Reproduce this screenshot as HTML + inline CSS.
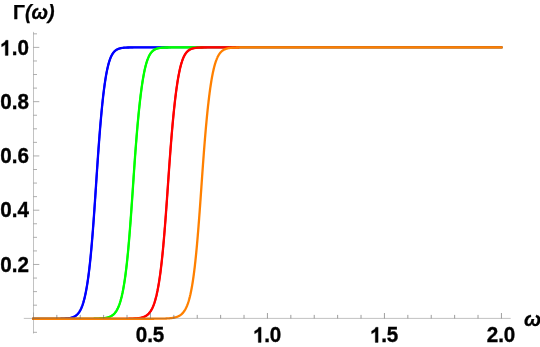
<!DOCTYPE html>
<html><head><meta charset="utf-8"><title>Plot</title>
<style>
html,body{margin:0;padding:0;background:#fff;}
body{width:540px;height:347px;position:relative;overflow:hidden;font-family:"Liberation Sans",sans-serif;color:#000;}
.yl{position:absolute;left:0;width:29px;text-align:right;font-weight:bold;font-size:20.6px;line-height:22px;height:22px;white-space:nowrap;}
.xl{position:absolute;top:322.8px;width:40px;text-align:center;font-weight:bold;font-size:20.6px;line-height:22px;height:22px;white-space:nowrap;}
.t{position:absolute;font-weight:bold;font-size:20.6px;line-height:22px;white-space:nowrap;}
.t{-webkit-text-stroke:0.25px #000;}
.t i{font-style:italic;}
.o{position:relative;color:transparent;-webkit-text-stroke:0 transparent;}
.o svg{position:absolute;left:0;bottom:0.212em;width:0.55615em;height:0.685em;overflow:visible;}
.o path{fill:#000;stroke:#000;stroke-width:35;}
.yl,.xl,.t{will-change:transform;}
.yl,.xl{transform:scaleY(1.07);transform-origin:center top;-webkit-text-stroke:0.35px #000;}
</style></head><body>
<svg width="540" height="347" viewBox="0 0 540 347" style="position:absolute;left:0;top:0">
<g fill="none" stroke-width="2.3" stroke-linejoin="round">
<path stroke="#0000ff" stroke-width="1.9" stroke-linecap="square" d="M33.43 318.75 L51.56 318.75 L53.91 318.74 L55.31 318.74 L56.36 318.73 L57.18 318.73 L57.77 318.72 L58.35 318.72 L58.82 318.72 L59.29 318.71 L59.64 318.71 L59.99 318.70 L60.34 318.70 L60.69 318.69 L60.92 318.69 L61.16 318.68 L61.39 318.68 L61.63 318.67 L61.86 318.67 L62.09 318.66 L62.33 318.66 L62.56 318.65 L62.80 318.64 L63.03 318.64 L63.27 318.63 L63.50 318.62 L63.73 318.61 L63.97 318.60 L64.20 318.59 L64.44 318.58 L64.67 318.57 L64.90 318.56 L65.14 318.55 L65.37 318.53 L65.61 318.52 L65.84 318.50 L66.07 318.49 L66.31 318.47 L66.54 318.45 L66.78 318.44 L67.01 318.41 L67.24 318.39 L67.48 318.37 L67.71 318.35 L67.94 318.32 L68.18 318.29 L68.41 318.27 L68.65 318.24 L68.88 318.20 L69.12 318.17 L69.35 318.13 L69.58 318.09 L69.82 318.05 L70.05 318.01 L70.28 317.97 L70.52 317.92 L70.75 317.87 L70.99 317.81 L71.22 317.76 L71.45 317.70 L71.69 317.63 L71.92 317.57 L72.16 317.49 L72.39 317.42 L72.62 317.34 L72.86 317.26 L73.09 317.17 L73.33 317.07 L73.56 316.97 L73.80 316.87 L74.03 316.76 L74.26 316.64 L74.50 316.52 L74.73 316.39 L74.97 316.26 L75.20 316.11 L75.43 315.96 L75.67 315.80 L75.90 315.63 L76.13 315.46 L76.37 315.27 L76.60 315.07 L76.84 314.87 L77.07 314.65 L77.31 314.42 L77.54 314.18 L77.77 313.93 L78.01 313.66 L78.24 313.38 L78.47 313.09 L78.71 312.78 L78.94 312.45 L79.18 312.11 L79.41 311.76 L79.65 311.38 L79.88 310.99 L80.11 310.58 L80.35 310.15 L80.58 309.69 L80.81 309.22 L81.05 308.72 L81.17 308.47 L81.28 308.20 L81.40 307.93 L81.52 307.66 L81.63 307.38 L81.75 307.09 L81.87 306.80 L81.99 306.49 L82.10 306.19 L82.22 305.87 L82.34 305.55 L82.45 305.22 L82.57 304.89 L82.69 304.54 L82.80 304.19 L82.92 303.84 L83.04 303.47 L83.16 303.10 L83.27 302.71 L83.39 302.32 L83.51 301.93 L83.62 301.52 L83.74 301.11 L83.86 300.68 L83.97 300.25 L84.09 299.81 L84.21 299.36 L84.33 298.90 L84.44 298.43 L84.56 297.95 L84.68 297.46 L84.79 296.97 L84.91 296.46 L85.03 295.94 L85.14 295.42 L85.26 294.88 L85.38 294.33 L85.50 293.77 L85.61 293.21 L85.73 292.63 L85.85 292.04 L85.96 291.44 L86.08 290.83 L86.20 290.20 L86.31 289.57 L86.43 288.92 L86.55 288.27 L86.66 287.60 L86.78 286.92 L86.90 286.23 L87.02 285.53 L87.13 284.81 L87.25 284.08 L87.37 283.34 L87.48 282.59 L87.60 281.82 L87.72 281.04 L87.84 280.25 L87.95 279.44 L88.07 278.61 L88.19 277.77 L88.30 276.91 L88.42 276.04 L88.54 275.15 L88.65 274.25 L88.77 273.33 L88.89 272.39 L89.00 271.44 L89.12 270.47 L89.24 269.49 L89.36 268.49 L89.47 267.47 L89.59 266.43 L89.71 265.38 L89.82 264.31 L89.94 263.23 L90.06 262.12 L90.17 261.00 L90.29 259.86 L90.41 258.71 L90.53 257.53 L90.64 256.34 L90.76 255.14 L90.88 253.91 L90.99 252.67 L91.11 251.41 L91.23 250.13 L91.34 248.84 L91.46 247.53 L91.58 246.20 L91.70 244.85 L91.81 243.49 L91.93 242.11 L92.05 240.71 L92.16 239.30 L92.28 237.87 L92.40 236.43 L92.52 234.96 L92.63 233.49 L92.75 232.00 L92.87 230.49 L92.98 228.96 L93.10 227.43 L93.22 225.87 L93.33 224.31 L93.45 222.73 L93.57 221.13 L93.69 219.53 L93.80 217.91 L93.92 216.28 L94.04 214.63 L94.15 212.98 L94.27 211.31 L94.39 209.63 L94.50 207.95 L94.62 206.25 L94.74 204.54 L94.86 202.83 L94.97 201.10 L95.09 199.37 L95.21 197.63 L95.32 195.89 L95.44 194.14 L95.56 192.38 L95.67 190.62 L95.79 188.86 L95.91 187.09 L96.03 185.31 L96.14 183.54 L96.26 181.76 L96.38 179.99 L96.49 178.22 L96.61 176.46 L96.73 174.70 L96.84 172.95 L96.96 171.20 L97.08 169.46 L97.20 167.73 L97.31 166.00 L97.43 164.29 L97.55 162.58 L97.66 160.88 L97.78 159.20 L97.90 157.52 L98.01 155.85 L98.13 154.19 L98.25 152.55 L98.37 150.92 L98.48 149.29 L98.60 147.69 L98.72 146.09 L98.83 144.51 L98.95 142.93 L99.07 141.38 L99.18 139.83 L99.30 138.30 L99.42 136.79 L99.53 135.29 L99.65 133.80 L99.77 132.33 L99.89 130.87 L100.00 129.42 L100.12 128.00 L100.24 126.58 L100.35 125.18 L100.47 123.80 L100.59 122.43 L100.71 121.08 L100.82 119.74 L100.94 118.42 L101.06 117.11 L101.17 115.82 L101.29 114.54 L101.41 113.28 L101.52 112.04 L101.64 110.81 L101.76 109.60 L101.88 108.40 L101.99 107.22 L102.11 106.05 L102.23 104.90 L102.34 103.76 L102.46 102.64 L102.58 101.54 L102.69 100.45 L102.81 99.37 L102.93 98.31 L103.04 97.27 L103.16 96.24 L103.28 95.23 L103.40 94.23 L103.51 93.25 L103.63 92.28 L103.75 91.33 L103.86 90.39 L103.98 89.47 L104.10 88.56 L104.22 87.67 L104.33 86.79 L104.45 85.92 L104.57 85.07 L104.68 84.24 L104.80 83.42 L104.92 82.61 L105.03 81.82 L105.15 81.04 L105.27 80.27 L105.38 79.52 L105.50 78.78 L105.62 78.06 L105.74 77.35 L105.85 76.65 L105.97 75.96 L106.09 75.29 L106.20 74.63 L106.32 73.98 L106.44 73.35 L106.56 72.73 L106.67 72.12 L106.79 71.52 L106.91 70.93 L107.02 70.36 L107.14 69.80 L107.26 69.25 L107.37 68.71 L107.49 68.18 L107.61 67.66 L107.72 67.16 L107.84 66.66 L107.96 66.18 L108.08 65.70 L108.19 65.24 L108.31 64.78 L108.43 64.34 L108.54 63.91 L108.66 63.48 L108.78 63.07 L108.90 62.66 L109.01 62.27 L109.13 61.88 L109.25 61.50 L109.36 61.13 L109.48 60.77 L109.60 60.42 L109.71 60.07 L109.83 59.74 L109.95 59.41 L110.06 59.09 L110.18 58.78 L110.30 58.47 L110.42 58.17 L110.53 57.88 L110.65 57.60 L110.77 57.32 L110.88 57.05 L111.00 56.79 L111.12 56.54 L111.35 56.04 L111.59 55.57 L111.82 55.13 L112.05 54.70 L112.29 54.30 L112.52 53.92 L112.76 53.56 L112.99 53.22 L113.22 52.89 L113.46 52.58 L113.69 52.29 L113.93 52.02 L114.16 51.75 L114.39 51.51 L114.63 51.27 L114.86 51.05 L115.10 50.84 L115.33 50.64 L115.56 50.46 L115.80 50.28 L116.03 50.11 L116.27 49.96 L116.50 49.81 L116.73 49.67 L116.97 49.53 L117.20 49.41 L117.44 49.29 L117.67 49.18 L117.90 49.07 L118.14 48.97 L118.37 48.88 L118.61 48.79 L118.84 48.71 L119.07 48.63 L119.31 48.56 L119.54 48.49 L119.78 48.42 L120.01 48.36 L120.24 48.30 L120.48 48.25 L120.71 48.20 L120.95 48.15 L121.18 48.10 L121.41 48.06 L121.65 48.02 L121.88 47.98 L122.12 47.95 L122.35 47.91 L122.58 47.88 L122.82 47.85 L123.05 47.82 L123.29 47.80 L123.52 47.77 L123.75 47.75 L123.99 47.73 L124.22 47.71 L124.46 47.69 L124.69 47.67 L124.92 47.65 L125.16 47.64 L125.39 47.62 L125.63 47.61 L125.86 47.59 L126.09 47.58 L126.33 47.57 L126.56 47.56 L126.80 47.55 L127.03 47.54 L127.26 47.53 L127.50 47.52 L127.73 47.52 L127.97 47.51 L128.20 47.50 L128.43 47.49 L128.67 47.49 L128.90 47.48 L129.14 47.48 L129.37 47.47 L129.60 47.47 L129.84 47.46 L130.07 47.46 L130.42 47.45 L130.77 47.45 L131.12 47.44 L131.48 47.44 L131.94 47.43 L132.41 47.43 L133.00 47.43 L133.58 47.42 L134.40 47.42 L135.34 47.41 L136.62 47.41 L138.73 47.40 L145.40 47.40 L501.43 47.40"/>
<path stroke="#0000ff" d="M60.46 318.69 L60.81 318.69 L61.04 318.68 L61.28 318.68 L61.51 318.67 L61.74 318.67 L61.98 318.66 L62.21 318.66 L62.45 318.65 L62.68 318.65 L62.91 318.64 L63.15 318.63 L63.38 318.62 L63.62 318.62 L63.85 318.61 L64.08 318.60 L64.32 318.59 L64.55 318.58 L64.79 318.57 L65.02 318.55 L65.25 318.54 L65.49 318.53 L65.72 318.51 L65.96 318.50 L66.19 318.48 L66.42 318.46 L66.66 318.44 L66.89 318.43 L67.13 318.40 L67.36 318.38 L67.59 318.36 L67.83 318.33 L68.06 318.31 L68.30 318.28 L68.53 318.25 L68.76 318.22 L69.00 318.19 L69.23 318.15 L69.47 318.11 L69.70 318.08 L69.93 318.03 L70.17 317.99 L70.40 317.94 L70.64 317.89 L70.87 317.84 L71.10 317.79 L71.34 317.73 L71.57 317.67 L71.81 317.60 L72.04 317.53 L72.27 317.46 L72.51 317.38 L72.74 317.30 L72.98 317.21 L73.21 317.12 L73.44 317.03 L73.68 316.92 L73.91 316.82 L74.15 316.70 L74.38 316.58 L74.61 316.46 L74.85 316.33 L75.08 316.19 L75.32 316.04 L75.55 315.88 L75.78 315.72 L76.02 315.55 L76.25 315.36 L76.49 315.17 L76.72 314.97 L76.95 314.76 L77.19 314.54 L77.42 314.30 L77.66 314.05 L77.89 313.80 L78.12 313.52 L78.36 313.24 L78.59 312.93 L78.83 312.62 L79.06 312.29 L79.29 311.94 L79.53 311.57 L79.76 311.19 L80.00 310.79 L80.23 310.36 L80.46 309.92 L80.70 309.46 L80.93 308.97 L81.05 308.72 L81.17 308.47 L81.28 308.20 L81.40 307.93 L81.52 307.66 L81.63 307.38 L81.75 307.09 L81.87 306.80 L81.99 306.49 L82.10 306.19 L82.22 305.87 L82.34 305.55 L82.45 305.22 L82.57 304.89 L82.69 304.54 L82.80 304.19 L82.92 303.84 L83.04 303.47 L83.16 303.10 L83.27 302.71 L83.39 302.32 L83.51 301.93 L83.62 301.52 L83.74 301.11 L83.86 300.68 L83.97 300.25 L84.09 299.81 L84.21 299.36 L84.33 298.90 L84.44 298.43 L84.56 297.95 L84.68 297.46 L84.79 296.97 L84.91 296.46 L85.03 295.94 L85.14 295.42 L85.26 294.88 L85.38 294.33 L85.50 293.77 L85.61 293.21 L85.73 292.63 L85.85 292.04 L85.96 291.44 L86.08 290.83 L86.20 290.20 L86.31 289.57 L86.43 288.92 L86.55 288.27 L86.66 287.60 L86.78 286.92 L86.90 286.23 L87.02 285.53 L87.13 284.81 L87.25 284.08 L87.37 283.34 L87.48 282.59 L87.60 281.82 L87.72 281.04 L87.84 280.25 L87.95 279.44 L88.07 278.61 L88.19 277.77 L88.30 276.91 L88.42 276.04 L88.54 275.15 L88.65 274.25 L88.77 273.33 L88.89 272.39 L89.00 271.44 L89.12 270.47 L89.24 269.49 L89.36 268.49 L89.47 267.47 L89.59 266.43 L89.71 265.38 L89.82 264.31 L89.94 263.23 L90.06 262.12 L90.17 261.00 L90.29 259.86 L90.41 258.71 L90.53 257.53 L90.64 256.34 L90.76 255.14 L90.88 253.91 L90.99 252.67 L91.11 251.41 L91.23 250.13 L91.34 248.84 L91.46 247.53 L91.58 246.20 L91.70 244.85 L91.81 243.49 L91.93 242.11 L92.05 240.71 L92.16 239.30 L92.28 237.87 L92.40 236.43 L92.52 234.96 L92.63 233.49 L92.75 232.00 L92.87 230.49 L92.98 228.96 L93.10 227.43 L93.22 225.87 L93.33 224.31 L93.45 222.73 L93.57 221.13 L93.69 219.53 L93.80 217.91 L93.92 216.28 L94.04 214.63 L94.15 212.98 L94.27 211.31 L94.39 209.63 L94.50 207.95 L94.62 206.25 L94.74 204.54 L94.86 202.83 L94.97 201.10 L95.09 199.37 L95.21 197.63 L95.32 195.89 L95.44 194.14 L95.56 192.38 L95.67 190.62 L95.79 188.86 L95.91 187.09 L96.03 185.31 L96.14 183.54 L96.26 181.76 L96.38 179.99 L96.49 178.22 L96.61 176.46 L96.73 174.70 L96.84 172.95 L96.96 171.20 L97.08 169.46 L97.20 167.73 L97.31 166.00 L97.43 164.29 L97.55 162.58 L97.66 160.88 L97.78 159.20 L97.90 157.52 L98.01 155.85 L98.13 154.19 L98.25 152.55 L98.37 150.92 L98.48 149.29 L98.60 147.69 L98.72 146.09 L98.83 144.51 L98.95 142.93 L99.07 141.38 L99.18 139.83 L99.30 138.30 L99.42 136.79 L99.53 135.29 L99.65 133.80 L99.77 132.33 L99.89 130.87 L100.00 129.42 L100.12 128.00 L100.24 126.58 L100.35 125.18 L100.47 123.80 L100.59 122.43 L100.71 121.08 L100.82 119.74 L100.94 118.42 L101.06 117.11 L101.17 115.82 L101.29 114.54 L101.41 113.28 L101.52 112.04 L101.64 110.81 L101.76 109.60 L101.88 108.40 L101.99 107.22 L102.11 106.05 L102.23 104.90 L102.34 103.76 L102.46 102.64 L102.58 101.54 L102.69 100.45 L102.81 99.37 L102.93 98.31 L103.04 97.27 L103.16 96.24 L103.28 95.23 L103.40 94.23 L103.51 93.25 L103.63 92.28 L103.75 91.33 L103.86 90.39 L103.98 89.47 L104.10 88.56 L104.22 87.67 L104.33 86.79 L104.45 85.92 L104.57 85.07 L104.68 84.24 L104.80 83.42 L104.92 82.61 L105.03 81.82 L105.15 81.04 L105.27 80.27 L105.38 79.52 L105.50 78.78 L105.62 78.06 L105.74 77.35 L105.85 76.65 L105.97 75.96 L106.09 75.29 L106.20 74.63 L106.32 73.98 L106.44 73.35 L106.56 72.73 L106.67 72.12 L106.79 71.52 L106.91 70.93 L107.02 70.36 L107.14 69.80 L107.26 69.25 L107.37 68.71 L107.49 68.18 L107.61 67.66 L107.72 67.16 L107.84 66.66 L107.96 66.18 L108.08 65.70 L108.19 65.24 L108.31 64.78 L108.43 64.34 L108.54 63.91 L108.66 63.48 L108.78 63.07 L108.90 62.66 L109.01 62.27 L109.13 61.88 L109.25 61.50 L109.36 61.13 L109.48 60.77 L109.60 60.42 L109.71 60.07 L109.83 59.74 L109.95 59.41 L110.06 59.09 L110.18 58.78 L110.30 58.47 L110.42 58.17 L110.53 57.88 L110.65 57.60 L110.77 57.32 L110.88 57.05 L111.00 56.79 L111.12 56.54 L111.35 56.04 L111.59 55.57 L111.82 55.13 L112.05 54.70 L112.29 54.30 L112.52 53.92 L112.76 53.56 L112.99 53.22 L113.22 52.89 L113.46 52.58 L113.69 52.29 L113.93 52.02 L114.16 51.75 L114.39 51.51 L114.63 51.27 L114.86 51.05 L115.10 50.84 L115.33 50.64 L115.56 50.46 L115.80 50.28 L116.03 50.11 L116.27 49.96 L116.50 49.81 L116.73 49.67 L116.97 49.53 L117.20 49.41 L117.44 49.29 L117.67 49.18 L117.90 49.07 L118.14 48.97 L118.37 48.88 L118.61 48.79 L118.84 48.71 L119.07 48.63 L119.31 48.56 L119.54 48.49 L119.78 48.42 L120.01 48.36 L120.24 48.30 L120.48 48.25 L120.71 48.20 L120.95 48.15 L121.18 48.10 L121.41 48.06 L121.65 48.02 L121.88 47.98 L122.12 47.95 L122.35 47.91 L122.58 47.88 L122.82 47.85 L123.05 47.82 L123.29 47.80 L123.52 47.77 L123.75 47.75 L123.99 47.73 L124.22 47.71 L124.46 47.69 L124.69 47.67 L124.92 47.65 L125.16 47.64 L125.39 47.62 L125.63 47.61 L125.86 47.59 L126.09 47.58 L126.33 47.57 L126.56 47.56 L126.80 47.55 L127.03 47.54 L127.26 47.53 L127.50 47.52 L127.73 47.52 L127.97 47.51 L128.20 47.50 L128.43 47.49 L128.67 47.49 L128.90 47.48 L129.14 47.48 L129.37 47.47 L129.60 47.47 L129.84 47.46 L130.07 47.46 L130.42 47.45 L130.77 47.45 L131.12 47.44 L131.48 47.44 L131.94 47.43 L132.41 47.43 L133.00 47.43 L133.58 47.42 L134.40 47.42 L135.34 47.41 L136.62 47.41 L138.73 47.40 L145.40 47.40 L168.45 47.40"/>
<path stroke="#00ff00" stroke-width="1.9" stroke-linecap="square" d="M33.43 318.75 L82.57 318.75 L85.50 318.74 L87.25 318.74 L88.54 318.73 L89.47 318.73 L90.29 318.72 L90.99 318.72 L91.58 318.72 L92.16 318.71 L92.63 318.71 L93.10 318.70 L93.45 318.70 L93.80 318.69 L94.15 318.69 L94.50 318.68 L94.86 318.68 L95.21 318.67 L95.44 318.67 L95.67 318.66 L95.91 318.66 L96.14 318.65 L96.38 318.65 L96.61 318.64 L96.84 318.64 L97.08 318.63 L97.31 318.62 L97.55 318.62 L97.78 318.61 L98.01 318.60 L98.25 318.59 L98.48 318.59 L98.72 318.58 L98.95 318.57 L99.18 318.56 L99.42 318.55 L99.65 318.54 L99.89 318.53 L100.12 318.51 L100.35 318.50 L100.59 318.49 L100.82 318.47 L101.06 318.46 L101.29 318.44 L101.52 318.43 L101.76 318.41 L101.99 318.39 L102.23 318.37 L102.46 318.35 L102.69 318.33 L102.93 318.31 L103.16 318.28 L103.40 318.26 L103.63 318.23 L103.86 318.21 L104.10 318.18 L104.33 318.15 L104.57 318.12 L104.80 318.08 L105.03 318.05 L105.27 318.01 L105.50 317.97 L105.74 317.93 L105.97 317.89 L106.20 317.84 L106.44 317.79 L106.67 317.74 L106.91 317.69 L107.14 317.64 L107.37 317.58 L107.61 317.52 L107.84 317.45 L108.08 317.39 L108.31 317.32 L108.54 317.24 L108.78 317.16 L109.01 317.08 L109.25 317.00 L109.48 316.90 L109.71 316.81 L109.95 316.71 L110.18 316.61 L110.42 316.50 L110.65 316.38 L110.88 316.26 L111.12 316.13 L111.35 316.00 L111.59 315.86 L111.82 315.71 L112.05 315.56 L112.29 315.40 L112.52 315.23 L112.76 315.05 L112.99 314.86 L113.22 314.67 L113.46 314.47 L113.69 314.25 L113.93 314.03 L114.16 313.79 L114.39 313.54 L114.63 313.28 L114.86 313.01 L115.10 312.73 L115.33 312.43 L115.56 312.12 L115.80 311.79 L116.03 311.45 L116.27 311.10 L116.50 310.72 L116.73 310.33 L116.97 309.92 L117.20 309.50 L117.44 309.05 L117.67 308.58 L117.90 308.09 L118.02 307.84 L118.14 307.58 L118.25 307.32 L118.37 307.05 L118.49 306.77 L118.61 306.49 L118.72 306.21 L118.84 305.91 L118.96 305.61 L119.07 305.30 L119.19 304.99 L119.31 304.67 L119.43 304.34 L119.54 304.01 L119.66 303.67 L119.78 303.32 L119.89 302.97 L120.01 302.60 L120.13 302.23 L120.24 301.85 L120.36 301.47 L120.48 301.07 L120.59 300.67 L120.71 300.26 L120.83 299.84 L120.95 299.41 L121.06 298.97 L121.18 298.53 L121.30 298.07 L121.41 297.61 L121.53 297.14 L121.65 296.66 L121.76 296.16 L121.88 295.66 L122.00 295.15 L122.12 294.63 L122.23 294.10 L122.35 293.56 L122.47 293.01 L122.58 292.44 L122.70 291.87 L122.82 291.29 L122.94 290.69 L123.05 290.09 L123.17 289.47 L123.29 288.84 L123.40 288.20 L123.52 287.55 L123.64 286.89 L123.75 286.21 L123.87 285.53 L123.99 284.83 L124.10 284.12 L124.22 283.39 L124.34 282.66 L124.46 281.91 L124.57 281.14 L124.69 280.36 L124.81 279.57 L124.92 278.77 L125.04 277.94 L125.16 277.11 L125.28 276.26 L125.39 275.39 L125.51 274.51 L125.63 273.61 L125.74 272.70 L125.86 271.77 L125.98 270.83 L126.09 269.87 L126.21 268.90 L126.33 267.91 L126.44 266.90 L126.56 265.87 L126.68 264.83 L126.80 263.78 L126.91 262.71 L127.03 261.62 L127.15 260.51 L127.26 259.39 L127.38 258.25 L127.50 257.09 L127.62 255.92 L127.73 254.73 L127.85 253.52 L127.97 252.30 L128.08 251.06 L128.20 249.81 L128.32 248.53 L128.43 247.24 L128.55 245.94 L128.67 244.62 L128.78 243.28 L128.90 241.92 L129.02 240.55 L129.14 239.17 L129.25 237.76 L129.37 236.35 L129.49 234.91 L129.60 233.47 L129.72 232.00 L129.84 230.52 L129.96 229.03 L130.07 227.53 L130.19 226.00 L130.31 224.47 L130.42 222.92 L130.54 221.36 L130.66 219.79 L130.77 218.20 L130.89 216.61 L131.01 215.00 L131.12 213.38 L131.24 211.75 L131.36 210.11 L131.48 208.45 L131.59 206.79 L131.71 205.12 L131.83 203.45 L131.94 201.76 L132.06 200.07 L132.18 198.36 L132.29 196.66 L132.41 194.94 L132.53 193.22 L132.65 191.50 L132.76 189.77 L132.88 188.04 L133.00 186.30 L133.11 184.56 L133.23 182.82 L133.35 181.08 L133.47 179.35 L133.58 177.62 L133.70 175.90 L133.82 174.19 L133.93 172.48 L134.05 170.78 L134.17 169.09 L134.28 167.41 L134.40 165.74 L134.52 164.08 L134.63 162.43 L134.75 160.79 L134.87 159.16 L134.99 157.54 L135.10 155.94 L135.22 154.34 L135.34 152.76 L135.45 151.19 L135.57 149.63 L135.69 148.09 L135.81 146.55 L135.92 145.03 L136.04 143.53 L136.16 142.04 L136.27 140.56 L136.39 139.09 L136.51 137.64 L136.62 136.21 L136.74 134.78 L136.86 133.37 L136.97 131.98 L137.09 130.60 L137.21 129.23 L137.33 127.88 L137.44 126.54 L137.56 125.21 L137.68 123.90 L137.79 122.61 L137.91 121.33 L138.03 120.06 L138.15 118.80 L138.26 117.56 L138.38 116.34 L138.50 115.13 L138.61 113.93 L138.73 112.75 L138.85 111.58 L138.96 110.42 L139.08 109.28 L139.20 108.15 L139.31 107.04 L139.43 105.94 L139.55 104.85 L139.67 103.78 L139.78 102.72 L139.90 101.67 L140.02 100.64 L140.13 99.62 L140.25 98.62 L140.37 97.62 L140.49 96.65 L140.60 95.68 L140.72 94.73 L140.84 93.79 L140.95 92.87 L141.07 91.95 L141.19 91.05 L141.30 90.17 L141.42 89.29 L141.54 88.43 L141.66 87.59 L141.77 86.75 L141.89 85.93 L142.01 85.12 L142.12 84.32 L142.24 83.54 L142.36 82.77 L142.47 82.01 L142.59 81.26 L142.71 80.53 L142.83 79.80 L142.94 79.09 L143.06 78.39 L143.18 77.71 L143.29 77.03 L143.41 76.37 L143.53 75.72 L143.64 75.08 L143.76 74.45 L143.88 73.83 L144.00 73.22 L144.11 72.63 L144.23 72.04 L144.35 71.47 L144.46 70.91 L144.58 70.36 L144.70 69.81 L144.81 69.28 L144.93 68.76 L145.05 68.25 L145.17 67.75 L145.28 67.26 L145.40 66.78 L145.52 66.31 L145.63 65.85 L145.75 65.40 L145.87 64.96 L145.98 64.52 L146.10 64.10 L146.22 63.69 L146.34 63.28 L146.45 62.88 L146.57 62.49 L146.69 62.11 L146.80 61.74 L146.92 61.38 L147.04 61.02 L147.15 60.67 L147.27 60.33 L147.39 60.00 L147.50 59.68 L147.62 59.36 L147.74 59.05 L147.86 58.75 L147.97 58.45 L148.09 58.16 L148.21 57.88 L148.32 57.60 L148.44 57.34 L148.56 57.07 L148.68 56.82 L148.79 56.57 L149.03 56.08 L149.26 55.62 L149.49 55.19 L149.73 54.77 L149.96 54.38 L150.20 54.00 L150.43 53.64 L150.66 53.30 L150.90 52.98 L151.13 52.68 L151.37 52.39 L151.60 52.11 L151.83 51.85 L152.07 51.60 L152.30 51.37 L152.54 51.15 L152.77 50.94 L153.00 50.74 L153.24 50.55 L153.47 50.37 L153.71 50.20 L153.94 50.04 L154.17 49.89 L154.41 49.75 L154.64 49.62 L154.88 49.49 L155.11 49.37 L155.34 49.25 L155.58 49.15 L155.81 49.05 L156.05 48.95 L156.28 48.86 L156.51 48.77 L156.75 48.69 L156.98 48.62 L157.22 48.55 L157.45 48.48 L157.68 48.41 L157.92 48.35 L158.15 48.30 L158.39 48.24 L158.62 48.19 L158.85 48.15 L159.09 48.10 L159.32 48.06 L159.56 48.02 L159.79 47.98 L160.02 47.95 L160.26 47.92 L160.49 47.88 L160.73 47.85 L160.96 47.83 L161.19 47.80 L161.43 47.78 L161.66 47.75 L161.90 47.73 L162.13 47.71 L162.36 47.69 L162.60 47.67 L162.83 47.66 L163.07 47.64 L163.30 47.63 L163.53 47.61 L163.77 47.60 L164.00 47.59 L164.24 47.58 L164.47 47.57 L164.70 47.55 L164.94 47.55 L165.17 47.54 L165.41 47.53 L165.64 47.52 L165.87 47.51 L166.11 47.50 L166.34 47.50 L166.58 47.49 L166.81 47.49 L167.04 47.48 L167.28 47.48 L167.51 47.47 L167.75 47.47 L167.98 47.46 L168.33 47.46 L168.68 47.45 L169.03 47.45 L169.38 47.44 L169.85 47.44 L170.32 47.43 L170.79 47.43 L171.37 47.42 L172.08 47.42 L172.89 47.42 L173.95 47.41 L175.47 47.41 L178.28 47.40 L501.43 47.40"/>
<path stroke="#00ff00" d="M93.69 318.70 L94.04 318.69 L94.39 318.69 L94.74 318.68 L95.09 318.67 L95.32 318.67 L95.56 318.67 L95.79 318.66 L96.03 318.66 L96.26 318.65 L96.49 318.65 L96.73 318.64 L96.96 318.63 L97.20 318.63 L97.43 318.62 L97.66 318.61 L97.90 318.61 L98.13 318.60 L98.37 318.59 L98.60 318.58 L98.83 318.57 L99.07 318.56 L99.30 318.55 L99.53 318.54 L99.77 318.53 L100.00 318.52 L100.24 318.51 L100.47 318.49 L100.71 318.48 L100.94 318.47 L101.17 318.45 L101.41 318.43 L101.64 318.42 L101.88 318.40 L102.11 318.38 L102.34 318.36 L102.58 318.34 L102.81 318.32 L103.04 318.30 L103.28 318.27 L103.51 318.25 L103.75 318.22 L103.98 318.19 L104.22 318.16 L104.45 318.13 L104.68 318.10 L104.92 318.06 L105.15 318.03 L105.38 317.99 L105.62 317.95 L105.85 317.91 L106.09 317.86 L106.32 317.82 L106.56 317.77 L106.79 317.72 L107.02 317.66 L107.26 317.61 L107.49 317.55 L107.72 317.49 L107.96 317.42 L108.19 317.35 L108.43 317.28 L108.66 317.20 L108.90 317.12 L109.13 317.04 L109.36 316.95 L109.60 316.86 L109.83 316.76 L110.06 316.66 L110.30 316.55 L110.53 316.44 L110.77 316.32 L111.00 316.20 L111.24 316.07 L111.47 315.93 L111.70 315.79 L111.94 315.64 L112.17 315.48 L112.41 315.31 L112.64 315.14 L112.87 314.96 L113.11 314.77 L113.34 314.57 L113.58 314.36 L113.81 314.14 L114.04 313.91 L114.28 313.67 L114.51 313.42 L114.75 313.15 L114.98 312.87 L115.21 312.58 L115.45 312.28 L115.68 311.96 L115.91 311.63 L116.15 311.28 L116.38 310.91 L116.62 310.53 L116.85 310.13 L117.09 309.71 L117.32 309.27 L117.55 308.82 L117.79 308.34 L118.02 307.84 L118.14 307.58 L118.25 307.32 L118.37 307.05 L118.49 306.77 L118.61 306.49 L118.72 306.21 L118.84 305.91 L118.96 305.61 L119.07 305.30 L119.19 304.99 L119.31 304.67 L119.43 304.34 L119.54 304.01 L119.66 303.67 L119.78 303.32 L119.89 302.97 L120.01 302.60 L120.13 302.23 L120.24 301.85 L120.36 301.47 L120.48 301.07 L120.59 300.67 L120.71 300.26 L120.83 299.84 L120.95 299.41 L121.06 298.97 L121.18 298.53 L121.30 298.07 L121.41 297.61 L121.53 297.14 L121.65 296.66 L121.76 296.16 L121.88 295.66 L122.00 295.15 L122.12 294.63 L122.23 294.10 L122.35 293.56 L122.47 293.01 L122.58 292.44 L122.70 291.87 L122.82 291.29 L122.94 290.69 L123.05 290.09 L123.17 289.47 L123.29 288.84 L123.40 288.20 L123.52 287.55 L123.64 286.89 L123.75 286.21 L123.87 285.53 L123.99 284.83 L124.10 284.12 L124.22 283.39 L124.34 282.66 L124.46 281.91 L124.57 281.14 L124.69 280.36 L124.81 279.57 L124.92 278.77 L125.04 277.94 L125.16 277.11 L125.28 276.26 L125.39 275.39 L125.51 274.51 L125.63 273.61 L125.74 272.70 L125.86 271.77 L125.98 270.83 L126.09 269.87 L126.21 268.90 L126.33 267.91 L126.44 266.90 L126.56 265.87 L126.68 264.83 L126.80 263.78 L126.91 262.71 L127.03 261.62 L127.15 260.51 L127.26 259.39 L127.38 258.25 L127.50 257.09 L127.62 255.92 L127.73 254.73 L127.85 253.52 L127.97 252.30 L128.08 251.06 L128.20 249.81 L128.32 248.53 L128.43 247.24 L128.55 245.94 L128.67 244.62 L128.78 243.28 L128.90 241.92 L129.02 240.55 L129.14 239.17 L129.25 237.76 L129.37 236.35 L129.49 234.91 L129.60 233.47 L129.72 232.00 L129.84 230.52 L129.96 229.03 L130.07 227.53 L130.19 226.00 L130.31 224.47 L130.42 222.92 L130.54 221.36 L130.66 219.79 L130.77 218.20 L130.89 216.61 L131.01 215.00 L131.12 213.38 L131.24 211.75 L131.36 210.11 L131.48 208.45 L131.59 206.79 L131.71 205.12 L131.83 203.45 L131.94 201.76 L132.06 200.07 L132.18 198.36 L132.29 196.66 L132.41 194.94 L132.53 193.22 L132.65 191.50 L132.76 189.77 L132.88 188.04 L133.00 186.30 L133.11 184.56 L133.23 182.82 L133.35 181.08 L133.47 179.35 L133.58 177.62 L133.70 175.90 L133.82 174.19 L133.93 172.48 L134.05 170.78 L134.17 169.09 L134.28 167.41 L134.40 165.74 L134.52 164.08 L134.63 162.43 L134.75 160.79 L134.87 159.16 L134.99 157.54 L135.10 155.94 L135.22 154.34 L135.34 152.76 L135.45 151.19 L135.57 149.63 L135.69 148.09 L135.81 146.55 L135.92 145.03 L136.04 143.53 L136.16 142.04 L136.27 140.56 L136.39 139.09 L136.51 137.64 L136.62 136.21 L136.74 134.78 L136.86 133.37 L136.97 131.98 L137.09 130.60 L137.21 129.23 L137.33 127.88 L137.44 126.54 L137.56 125.21 L137.68 123.90 L137.79 122.61 L137.91 121.33 L138.03 120.06 L138.15 118.80 L138.26 117.56 L138.38 116.34 L138.50 115.13 L138.61 113.93 L138.73 112.75 L138.85 111.58 L138.96 110.42 L139.08 109.28 L139.20 108.15 L139.31 107.04 L139.43 105.94 L139.55 104.85 L139.67 103.78 L139.78 102.72 L139.90 101.67 L140.02 100.64 L140.13 99.62 L140.25 98.62 L140.37 97.62 L140.49 96.65 L140.60 95.68 L140.72 94.73 L140.84 93.79 L140.95 92.87 L141.07 91.95 L141.19 91.05 L141.30 90.17 L141.42 89.29 L141.54 88.43 L141.66 87.59 L141.77 86.75 L141.89 85.93 L142.01 85.12 L142.12 84.32 L142.24 83.54 L142.36 82.77 L142.47 82.01 L142.59 81.26 L142.71 80.53 L142.83 79.80 L142.94 79.09 L143.06 78.39 L143.18 77.71 L143.29 77.03 L143.41 76.37 L143.53 75.72 L143.64 75.08 L143.76 74.45 L143.88 73.83 L144.00 73.22 L144.11 72.63 L144.23 72.04 L144.35 71.47 L144.46 70.91 L144.58 70.36 L144.70 69.81 L144.81 69.28 L144.93 68.76 L145.05 68.25 L145.17 67.75 L145.28 67.26 L145.40 66.78 L145.52 66.31 L145.63 65.85 L145.75 65.40 L145.87 64.96 L145.98 64.52 L146.10 64.10 L146.22 63.69 L146.34 63.28 L146.45 62.88 L146.57 62.49 L146.69 62.11 L146.80 61.74 L146.92 61.38 L147.04 61.02 L147.15 60.67 L147.27 60.33 L147.39 60.00 L147.50 59.68 L147.62 59.36 L147.74 59.05 L147.86 58.75 L147.97 58.45 L148.09 58.16 L148.21 57.88 L148.32 57.60 L148.44 57.34 L148.56 57.07 L148.68 56.82 L148.79 56.57 L149.03 56.08 L149.26 55.62 L149.49 55.19 L149.73 54.77 L149.96 54.38 L150.20 54.00 L150.43 53.64 L150.66 53.30 L150.90 52.98 L151.13 52.68 L151.37 52.39 L151.60 52.11 L151.83 51.85 L152.07 51.60 L152.30 51.37 L152.54 51.15 L152.77 50.94 L153.00 50.74 L153.24 50.55 L153.47 50.37 L153.71 50.20 L153.94 50.04 L154.17 49.89 L154.41 49.75 L154.64 49.62 L154.88 49.49 L155.11 49.37 L155.34 49.25 L155.58 49.15 L155.81 49.05 L156.05 48.95 L156.28 48.86 L156.51 48.77 L156.75 48.69 L156.98 48.62 L157.22 48.55 L157.45 48.48 L157.68 48.41 L157.92 48.35 L158.15 48.30 L158.39 48.24 L158.62 48.19 L158.85 48.15 L159.09 48.10 L159.32 48.06 L159.56 48.02 L159.79 47.98 L160.02 47.95 L160.26 47.92 L160.49 47.88 L160.73 47.85 L160.96 47.83 L161.19 47.80 L161.43 47.78 L161.66 47.75 L161.90 47.73 L162.13 47.71 L162.36 47.69 L162.60 47.67 L162.83 47.66 L163.07 47.64 L163.30 47.63 L163.53 47.61 L163.77 47.60 L164.00 47.59 L164.24 47.58 L164.47 47.57 L164.70 47.55 L164.94 47.55 L165.17 47.54 L165.41 47.53 L165.64 47.52 L165.87 47.51 L166.11 47.50 L166.34 47.50 L166.58 47.49 L166.81 47.49 L167.04 47.48 L167.28 47.48 L167.51 47.47 L167.75 47.47 L167.98 47.46 L168.33 47.46 L168.68 47.45 L169.03 47.45 L169.38 47.44 L169.85 47.44 L170.32 47.43 L170.79 47.43 L171.37 47.42 L172.08 47.42 L172.89 47.42 L173.95 47.41 L175.47 47.41 L178.28 47.40 L203.78 47.40"/>
<path stroke="#ff0000" stroke-width="1.9" stroke-linecap="square" d="M33.43 318.75 L117.79 318.75 L120.59 318.74 L122.23 318.74 L123.40 318.73 L124.34 318.73 L125.16 318.72 L125.86 318.72 L126.44 318.72 L126.91 318.71 L127.38 318.71 L127.85 318.70 L128.20 318.70 L128.55 318.69 L128.90 318.69 L129.25 318.68 L129.60 318.68 L129.84 318.67 L130.07 318.67 L130.31 318.66 L130.54 318.66 L130.77 318.65 L131.01 318.65 L131.24 318.64 L131.48 318.64 L131.71 318.63 L131.94 318.62 L132.18 318.62 L132.41 318.61 L132.65 318.60 L132.88 318.59 L133.11 318.58 L133.35 318.57 L133.58 318.56 L133.82 318.55 L134.05 318.54 L134.28 318.53 L134.52 318.52 L134.75 318.51 L134.99 318.49 L135.22 318.48 L135.45 318.46 L135.69 318.45 L135.92 318.43 L136.16 318.41 L136.39 318.40 L136.62 318.38 L136.86 318.36 L137.09 318.33 L137.33 318.31 L137.56 318.29 L137.79 318.26 L138.03 318.24 L138.26 318.21 L138.50 318.18 L138.73 318.15 L138.96 318.12 L139.20 318.08 L139.43 318.05 L139.67 318.01 L139.90 317.97 L140.13 317.93 L140.37 317.89 L140.60 317.84 L140.84 317.79 L141.07 317.74 L141.30 317.69 L141.54 317.63 L141.77 317.58 L142.01 317.51 L142.24 317.45 L142.47 317.38 L142.71 317.31 L142.94 317.23 L143.18 317.16 L143.41 317.07 L143.64 316.99 L143.88 316.90 L144.11 316.80 L144.35 316.70 L144.58 316.59 L144.81 316.48 L145.05 316.37 L145.28 316.25 L145.52 316.12 L145.75 315.98 L145.98 315.84 L146.22 315.70 L146.45 315.54 L146.69 315.38 L146.92 315.21 L147.15 315.03 L147.39 314.85 L147.62 314.65 L147.86 314.45 L148.09 314.23 L148.32 314.01 L148.56 313.77 L148.79 313.53 L149.03 313.27 L149.26 313.00 L149.49 312.72 L149.73 312.43 L149.96 312.12 L150.20 311.80 L150.43 311.46 L150.66 311.11 L150.90 310.74 L151.13 310.35 L151.37 309.95 L151.60 309.53 L151.83 309.09 L152.07 308.63 L152.30 308.16 L152.54 307.66 L152.65 307.40 L152.77 307.14 L152.89 306.87 L153.00 306.59 L153.12 306.31 L153.24 306.03 L153.35 305.74 L153.47 305.44 L153.59 305.13 L153.71 304.82 L153.82 304.51 L153.94 304.18 L154.06 303.85 L154.17 303.52 L154.29 303.17 L154.41 302.82 L154.52 302.46 L154.64 302.10 L154.76 301.73 L154.88 301.35 L154.99 300.96 L155.11 300.56 L155.23 300.16 L155.34 299.75 L155.46 299.33 L155.58 298.90 L155.69 298.47 L155.81 298.02 L155.93 297.57 L156.05 297.11 L156.16 296.64 L156.28 296.16 L156.40 295.68 L156.51 295.18 L156.63 294.67 L156.75 294.16 L156.86 293.63 L156.98 293.10 L157.10 292.55 L157.22 292.00 L157.33 291.44 L157.45 290.86 L157.57 290.28 L157.68 289.68 L157.80 289.08 L157.92 288.46 L158.03 287.84 L158.15 287.20 L158.27 286.55 L158.39 285.90 L158.50 285.23 L158.62 284.55 L158.74 283.85 L158.85 283.15 L158.97 282.44 L159.09 281.71 L159.20 280.97 L159.32 280.21 L159.44 279.44 L159.56 278.66 L159.67 277.86 L159.79 277.05 L159.91 276.23 L160.02 275.39 L160.14 274.54 L160.26 273.68 L160.38 272.79 L160.49 271.90 L160.61 270.99 L160.73 270.06 L160.84 269.12 L160.96 268.17 L161.08 267.20 L161.19 266.21 L161.31 265.21 L161.43 264.19 L161.55 263.16 L161.66 262.11 L161.78 261.05 L161.90 259.97 L162.01 258.88 L162.13 257.77 L162.25 256.64 L162.36 255.50 L162.48 254.34 L162.60 253.17 L162.72 251.98 L162.83 250.77 L162.95 249.55 L163.07 248.31 L163.18 247.06 L163.30 245.79 L163.42 244.51 L163.53 243.21 L163.65 241.90 L163.77 240.57 L163.89 239.22 L164.00 237.86 L164.12 236.49 L164.24 235.10 L164.35 233.70 L164.47 232.28 L164.59 230.85 L164.70 229.40 L164.82 227.94 L164.94 226.47 L165.06 224.99 L165.17 223.49 L165.29 221.98 L165.41 220.46 L165.52 218.92 L165.64 217.37 L165.76 215.82 L165.87 214.25 L165.99 212.67 L166.11 211.08 L166.22 209.48 L166.34 207.88 L166.46 206.26 L166.58 204.63 L166.69 203.00 L166.81 201.36 L166.93 199.71 L167.04 198.05 L167.16 196.39 L167.28 194.73 L167.40 193.05 L167.51 191.38 L167.63 189.69 L167.75 188.01 L167.86 186.32 L167.98 184.63 L168.10 182.93 L168.21 181.24 L168.33 179.55 L168.45 177.87 L168.56 176.19 L168.68 174.52 L168.80 172.85 L168.92 171.20 L169.03 169.54 L169.15 167.90 L169.27 166.26 L169.38 164.64 L169.50 163.02 L169.62 161.41 L169.74 159.81 L169.85 158.22 L169.97 156.64 L170.09 155.07 L170.20 153.51 L170.32 151.97 L170.44 150.43 L170.55 148.91 L170.67 147.40 L170.79 145.90 L170.91 144.41 L171.02 142.93 L171.14 141.47 L171.26 140.02 L171.37 138.58 L171.49 137.16 L171.61 135.75 L171.72 134.35 L171.84 132.96 L171.96 131.59 L172.08 130.23 L172.19 128.89 L172.31 127.56 L172.43 126.24 L172.54 124.93 L172.66 123.64 L172.78 122.36 L172.89 121.10 L173.01 119.85 L173.13 118.61 L173.25 117.39 L173.36 116.18 L173.48 114.98 L173.60 113.80 L173.71 112.63 L173.83 111.48 L173.95 110.34 L174.06 109.21 L174.18 108.09 L174.30 106.99 L174.42 105.90 L174.53 104.83 L174.65 103.77 L174.77 102.72 L174.88 101.69 L175.00 100.67 L175.12 99.66 L175.23 98.66 L175.35 97.68 L175.47 96.71 L175.59 95.76 L175.70 94.82 L175.82 93.89 L175.94 92.97 L176.05 92.07 L176.17 91.18 L176.29 90.30 L176.40 89.44 L176.52 88.58 L176.64 87.74 L176.76 86.92 L176.87 86.10 L176.99 85.30 L177.11 84.51 L177.22 83.73 L177.34 82.97 L177.46 82.22 L177.57 81.47 L177.69 80.75 L177.81 80.03 L177.93 79.32 L178.04 78.63 L178.16 77.95 L178.28 77.28 L178.39 76.62 L178.51 75.97 L178.63 75.34 L178.74 74.71 L178.86 74.10 L178.98 73.50 L179.10 72.90 L179.21 72.32 L179.33 71.75 L179.45 71.19 L179.56 70.65 L179.68 70.11 L179.80 69.58 L179.91 69.06 L180.03 68.55 L180.15 68.05 L180.27 67.56 L180.38 67.09 L180.50 66.62 L180.62 66.16 L180.73 65.71 L180.85 65.26 L180.97 64.83 L181.08 64.41 L181.20 63.99 L181.32 63.59 L181.44 63.19 L181.55 62.80 L181.67 62.42 L181.79 62.05 L181.90 61.68 L182.02 61.33 L182.14 60.98 L182.25 60.64 L182.37 60.30 L182.49 59.98 L182.61 59.66 L182.72 59.35 L182.84 59.04 L182.96 58.74 L183.07 58.45 L183.19 58.17 L183.31 57.89 L183.42 57.62 L183.54 57.35 L183.66 57.09 L183.78 56.84 L184.01 56.35 L184.24 55.89 L184.48 55.45 L184.71 55.03 L184.94 54.62 L185.18 54.24 L185.41 53.88 L185.65 53.53 L185.88 53.21 L186.12 52.89 L186.35 52.60 L186.58 52.32 L186.82 52.05 L187.05 51.80 L187.28 51.56 L187.52 51.33 L187.75 51.11 L187.99 50.91 L188.22 50.71 L188.46 50.53 L188.69 50.35 L188.92 50.19 L189.16 50.03 L189.39 49.88 L189.62 49.74 L189.86 49.61 L190.09 49.49 L190.33 49.37 L190.56 49.26 L190.80 49.15 L191.03 49.05 L191.26 48.96 L191.50 48.87 L191.73 48.78 L191.97 48.70 L192.20 48.63 L192.43 48.56 L192.67 48.49 L192.90 48.43 L193.14 48.37 L193.37 48.31 L193.60 48.26 L193.84 48.21 L194.07 48.16 L194.31 48.11 L194.54 48.07 L194.77 48.03 L195.01 47.99 L195.24 47.96 L195.47 47.93 L195.71 47.89 L195.94 47.87 L196.18 47.84 L196.41 47.81 L196.65 47.79 L196.88 47.76 L197.11 47.74 L197.35 47.72 L197.58 47.70 L197.81 47.68 L198.05 47.67 L198.28 47.65 L198.52 47.63 L198.75 47.62 L198.99 47.61 L199.22 47.59 L199.45 47.58 L199.69 47.57 L199.92 47.56 L200.16 47.55 L200.39 47.54 L200.62 47.53 L200.86 47.52 L201.09 47.52 L201.33 47.51 L201.56 47.50 L201.79 47.50 L202.03 47.49 L202.26 47.48 L202.50 47.48 L202.73 47.47 L202.96 47.47 L203.20 47.47 L203.43 47.46 L203.78 47.46 L204.13 47.45 L204.48 47.45 L204.84 47.44 L205.30 47.44 L205.77 47.43 L206.36 47.43 L206.94 47.42 L207.64 47.42 L208.58 47.41 L209.75 47.41 L211.50 47.41 L215.13 47.40 L501.43 47.40"/>
<path stroke="#ff0000" d="M128.43 318.69 L128.78 318.69 L129.14 318.68 L129.49 318.68 L129.72 318.67 L129.96 318.67 L130.19 318.67 L130.42 318.66 L130.66 318.66 L130.89 318.65 L131.12 318.64 L131.36 318.64 L131.59 318.63 L131.83 318.63 L132.06 318.62 L132.29 318.61 L132.53 318.60 L132.76 318.60 L133.00 318.59 L133.23 318.58 L133.47 318.57 L133.70 318.56 L133.93 318.55 L134.17 318.54 L134.40 318.53 L134.63 318.51 L134.87 318.50 L135.10 318.49 L135.34 318.47 L135.57 318.46 L135.81 318.44 L136.04 318.42 L136.27 318.41 L136.51 318.39 L136.74 318.37 L136.97 318.35 L137.21 318.32 L137.44 318.30 L137.68 318.28 L137.91 318.25 L138.15 318.22 L138.38 318.20 L138.61 318.17 L138.85 318.13 L139.08 318.10 L139.31 318.07 L139.55 318.03 L139.78 317.99 L140.02 317.95 L140.25 317.91 L140.49 317.86 L140.72 317.82 L140.95 317.77 L141.19 317.72 L141.42 317.66 L141.66 317.61 L141.89 317.55 L142.12 317.48 L142.36 317.42 L142.59 317.35 L142.83 317.27 L143.06 317.20 L143.29 317.12 L143.53 317.03 L143.76 316.94 L144.00 316.85 L144.23 316.75 L144.46 316.65 L144.70 316.54 L144.93 316.43 L145.17 316.31 L145.40 316.18 L145.63 316.05 L145.87 315.91 L146.10 315.77 L146.34 315.62 L146.57 315.46 L146.80 315.30 L147.04 315.12 L147.27 314.94 L147.50 314.75 L147.74 314.55 L147.97 314.34 L148.21 314.12 L148.44 313.89 L148.68 313.65 L148.91 313.40 L149.14 313.14 L149.38 312.86 L149.61 312.57 L149.84 312.27 L150.08 311.96 L150.31 311.63 L150.55 311.28 L150.78 310.92 L151.02 310.55 L151.25 310.15 L151.48 309.74 L151.72 309.31 L151.95 308.87 L152.19 308.40 L152.42 307.91 L152.54 307.66 L152.65 307.40 L152.77 307.14 L152.89 306.87 L153.00 306.59 L153.12 306.31 L153.24 306.03 L153.35 305.74 L153.47 305.44 L153.59 305.13 L153.71 304.82 L153.82 304.51 L153.94 304.18 L154.06 303.85 L154.17 303.52 L154.29 303.17 L154.41 302.82 L154.52 302.46 L154.64 302.10 L154.76 301.73 L154.88 301.35 L154.99 300.96 L155.11 300.56 L155.23 300.16 L155.34 299.75 L155.46 299.33 L155.58 298.90 L155.69 298.47 L155.81 298.02 L155.93 297.57 L156.05 297.11 L156.16 296.64 L156.28 296.16 L156.40 295.68 L156.51 295.18 L156.63 294.67 L156.75 294.16 L156.86 293.63 L156.98 293.10 L157.10 292.55 L157.22 292.00 L157.33 291.44 L157.45 290.86 L157.57 290.28 L157.68 289.68 L157.80 289.08 L157.92 288.46 L158.03 287.84 L158.15 287.20 L158.27 286.55 L158.39 285.90 L158.50 285.23 L158.62 284.55 L158.74 283.85 L158.85 283.15 L158.97 282.44 L159.09 281.71 L159.20 280.97 L159.32 280.21 L159.44 279.44 L159.56 278.66 L159.67 277.86 L159.79 277.05 L159.91 276.23 L160.02 275.39 L160.14 274.54 L160.26 273.68 L160.38 272.79 L160.49 271.90 L160.61 270.99 L160.73 270.06 L160.84 269.12 L160.96 268.17 L161.08 267.20 L161.19 266.21 L161.31 265.21 L161.43 264.19 L161.55 263.16 L161.66 262.11 L161.78 261.05 L161.90 259.97 L162.01 258.88 L162.13 257.77 L162.25 256.64 L162.36 255.50 L162.48 254.34 L162.60 253.17 L162.72 251.98 L162.83 250.77 L162.95 249.55 L163.07 248.31 L163.18 247.06 L163.30 245.79 L163.42 244.51 L163.53 243.21 L163.65 241.90 L163.77 240.57 L163.89 239.22 L164.00 237.86 L164.12 236.49 L164.24 235.10 L164.35 233.70 L164.47 232.28 L164.59 230.85 L164.70 229.40 L164.82 227.94 L164.94 226.47 L165.06 224.99 L165.17 223.49 L165.29 221.98 L165.41 220.46 L165.52 218.92 L165.64 217.37 L165.76 215.82 L165.87 214.25 L165.99 212.67 L166.11 211.08 L166.22 209.48 L166.34 207.88 L166.46 206.26 L166.58 204.63 L166.69 203.00 L166.81 201.36 L166.93 199.71 L167.04 198.05 L167.16 196.39 L167.28 194.73 L167.40 193.05 L167.51 191.38 L167.63 189.69 L167.75 188.01 L167.86 186.32 L167.98 184.63 L168.10 182.93 L168.21 181.24 L168.33 179.55 L168.45 177.87 L168.56 176.19 L168.68 174.52 L168.80 172.85 L168.92 171.20 L169.03 169.54 L169.15 167.90 L169.27 166.26 L169.38 164.64 L169.50 163.02 L169.62 161.41 L169.74 159.81 L169.85 158.22 L169.97 156.64 L170.09 155.07 L170.20 153.51 L170.32 151.97 L170.44 150.43 L170.55 148.91 L170.67 147.40 L170.79 145.90 L170.91 144.41 L171.02 142.93 L171.14 141.47 L171.26 140.02 L171.37 138.58 L171.49 137.16 L171.61 135.75 L171.72 134.35 L171.84 132.96 L171.96 131.59 L172.08 130.23 L172.19 128.89 L172.31 127.56 L172.43 126.24 L172.54 124.93 L172.66 123.64 L172.78 122.36 L172.89 121.10 L173.01 119.85 L173.13 118.61 L173.25 117.39 L173.36 116.18 L173.48 114.98 L173.60 113.80 L173.71 112.63 L173.83 111.48 L173.95 110.34 L174.06 109.21 L174.18 108.09 L174.30 106.99 L174.42 105.90 L174.53 104.83 L174.65 103.77 L174.77 102.72 L174.88 101.69 L175.00 100.67 L175.12 99.66 L175.23 98.66 L175.35 97.68 L175.47 96.71 L175.59 95.76 L175.70 94.82 L175.82 93.89 L175.94 92.97 L176.05 92.07 L176.17 91.18 L176.29 90.30 L176.40 89.44 L176.52 88.58 L176.64 87.74 L176.76 86.92 L176.87 86.10 L176.99 85.30 L177.11 84.51 L177.22 83.73 L177.34 82.97 L177.46 82.22 L177.57 81.47 L177.69 80.75 L177.81 80.03 L177.93 79.32 L178.04 78.63 L178.16 77.95 L178.28 77.28 L178.39 76.62 L178.51 75.97 L178.63 75.34 L178.74 74.71 L178.86 74.10 L178.98 73.50 L179.10 72.90 L179.21 72.32 L179.33 71.75 L179.45 71.19 L179.56 70.65 L179.68 70.11 L179.80 69.58 L179.91 69.06 L180.03 68.55 L180.15 68.05 L180.27 67.56 L180.38 67.09 L180.50 66.62 L180.62 66.16 L180.73 65.71 L180.85 65.26 L180.97 64.83 L181.08 64.41 L181.20 63.99 L181.32 63.59 L181.44 63.19 L181.55 62.80 L181.67 62.42 L181.79 62.05 L181.90 61.68 L182.02 61.33 L182.14 60.98 L182.25 60.64 L182.37 60.30 L182.49 59.98 L182.61 59.66 L182.72 59.35 L182.84 59.04 L182.96 58.74 L183.07 58.45 L183.19 58.17 L183.31 57.89 L183.42 57.62 L183.54 57.35 L183.66 57.09 L183.78 56.84 L184.01 56.35 L184.24 55.89 L184.48 55.45 L184.71 55.03 L184.94 54.62 L185.18 54.24 L185.41 53.88 L185.65 53.53 L185.88 53.21 L186.12 52.89 L186.35 52.60 L186.58 52.32 L186.82 52.05 L187.05 51.80 L187.28 51.56 L187.52 51.33 L187.75 51.11 L187.99 50.91 L188.22 50.71 L188.46 50.53 L188.69 50.35 L188.92 50.19 L189.16 50.03 L189.39 49.88 L189.62 49.74 L189.86 49.61 L190.09 49.49 L190.33 49.37 L190.56 49.26 L190.80 49.15 L191.03 49.05 L191.26 48.96 L191.50 48.87 L191.73 48.78 L191.97 48.70 L192.20 48.63 L192.43 48.56 L192.67 48.49 L192.90 48.43 L193.14 48.37 L193.37 48.31 L193.60 48.26 L193.84 48.21 L194.07 48.16 L194.31 48.11 L194.54 48.07 L194.77 48.03 L195.01 47.99 L195.24 47.96 L195.47 47.93 L195.71 47.89 L195.94 47.87 L196.18 47.84 L196.41 47.81 L196.65 47.79 L196.88 47.76 L197.11 47.74 L197.35 47.72 L197.58 47.70 L197.81 47.68 L198.05 47.67 L198.28 47.65 L198.52 47.63 L198.75 47.62 L198.99 47.61 L199.22 47.59 L199.45 47.58 L199.69 47.57 L199.92 47.56 L200.16 47.55 L200.39 47.54 L200.62 47.53 L200.86 47.52 L201.09 47.52 L201.33 47.51 L201.56 47.50 L201.79 47.50 L202.03 47.49 L202.26 47.48 L202.50 47.48 L202.73 47.47 L202.96 47.47 L203.20 47.47 L203.43 47.46 L203.78 47.46 L204.13 47.45 L204.48 47.45 L204.84 47.44 L205.30 47.44 L205.77 47.43 L206.36 47.43 L206.94 47.42 L207.64 47.42 L208.58 47.41 L209.75 47.41 L211.50 47.41 L215.13 47.40 L239.35 47.40"/>
<path stroke="#ff8000" stroke-linecap="square" d="M33.43 318.75 L143.18 318.75 L147.27 318.74 L149.61 318.74 L151.25 318.73 L152.54 318.73 L153.59 318.73 L154.52 318.72 L155.34 318.72 L156.05 318.71 L156.63 318.71 L157.22 318.70 L157.68 318.70 L158.15 318.69 L158.62 318.69 L158.97 318.68 L159.32 318.68 L159.67 318.68 L160.02 318.67 L160.38 318.66 L160.73 318.66 L161.08 318.65 L161.31 318.65 L161.55 318.64 L161.78 318.64 L162.01 318.64 L162.25 318.63 L162.48 318.62 L162.72 318.62 L162.95 318.61 L163.18 318.61 L163.42 318.60 L163.65 318.59 L163.89 318.59 L164.12 318.58 L164.35 318.57 L164.59 318.57 L164.82 318.56 L165.06 318.55 L165.29 318.54 L165.52 318.53 L165.76 318.52 L165.99 318.51 L166.22 318.50 L166.46 318.49 L166.69 318.48 L166.93 318.47 L167.16 318.45 L167.40 318.44 L167.63 318.43 L167.86 318.41 L168.10 318.40 L168.33 318.38 L168.56 318.36 L168.80 318.35 L169.03 318.33 L169.27 318.31 L169.50 318.29 L169.74 318.27 L169.97 318.25 L170.20 318.22 L170.44 318.20 L170.67 318.18 L170.91 318.15 L171.14 318.12 L171.37 318.09 L171.61 318.06 L171.84 318.03 L172.08 318.00 L172.31 317.97 L172.54 317.93 L172.78 317.89 L173.01 317.86 L173.25 317.82 L173.48 317.77 L173.71 317.73 L173.95 317.68 L174.18 317.63 L174.42 317.58 L174.65 317.53 L174.88 317.47 L175.12 317.42 L175.35 317.36 L175.59 317.29 L175.82 317.23 L176.05 317.16 L176.29 317.08 L176.52 317.01 L176.76 316.93 L176.99 316.84 L177.22 316.76 L177.46 316.67 L177.69 316.57 L177.93 316.47 L178.16 316.37 L178.39 316.26 L178.63 316.14 L178.86 316.02 L179.10 315.90 L179.33 315.77 L179.56 315.63 L179.80 315.49 L180.03 315.34 L180.27 315.18 L180.50 315.02 L180.73 314.84 L180.97 314.66 L181.20 314.48 L181.44 314.28 L181.67 314.08 L181.90 313.86 L182.14 313.64 L182.37 313.40 L182.61 313.16 L182.84 312.90 L183.07 312.63 L183.31 312.35 L183.54 312.06 L183.78 311.75 L184.01 311.43 L184.24 311.10 L184.48 310.75 L184.71 310.38 L184.94 310.00 L185.18 309.60 L185.41 309.18 L185.65 308.75 L185.88 308.29 L186.12 307.82 L186.35 307.32 L186.47 307.06 L186.58 306.80 L186.70 306.53 L186.82 306.26 L186.93 305.98 L187.05 305.69 L187.17 305.40 L187.28 305.11 L187.40 304.80 L187.52 304.49 L187.64 304.17 L187.75 303.85 L187.87 303.52 L187.99 303.18 L188.10 302.83 L188.22 302.48 L188.34 302.12 L188.46 301.76 L188.57 301.38 L188.69 301.00 L188.81 300.61 L188.92 300.21 L189.04 299.80 L189.16 299.38 L189.27 298.96 L189.39 298.53 L189.51 298.08 L189.62 297.63 L189.74 297.17 L189.86 296.70 L189.98 296.23 L190.09 295.74 L190.21 295.24 L190.33 294.73 L190.44 294.21 L190.56 293.69 L190.68 293.15 L190.80 292.60 L190.91 292.04 L191.03 291.47 L191.15 290.88 L191.26 290.29 L191.38 289.69 L191.50 289.07 L191.61 288.44 L191.73 287.81 L191.85 287.15 L191.97 286.49 L192.08 285.82 L192.20 285.13 L192.32 284.43 L192.43 283.71 L192.55 282.99 L192.67 282.25 L192.78 281.50 L192.90 280.73 L193.02 279.95 L193.14 279.16 L193.25 278.35 L193.37 277.53 L193.49 276.69 L193.60 275.84 L193.72 274.98 L193.84 274.10 L193.95 273.21 L194.07 272.30 L194.19 271.37 L194.31 270.44 L194.42 269.48 L194.54 268.51 L194.66 267.53 L194.77 266.53 L194.89 265.51 L195.01 264.48 L195.12 263.44 L195.24 262.38 L195.36 261.30 L195.47 260.21 L195.59 259.10 L195.71 257.97 L195.83 256.83 L195.94 255.68 L196.06 254.50 L196.18 253.32 L196.29 252.11 L196.41 250.89 L196.53 249.66 L196.65 248.41 L196.76 247.14 L196.88 245.86 L197.00 244.57 L197.11 243.26 L197.23 241.93 L197.35 240.59 L197.46 239.23 L197.58 237.86 L197.70 236.48 L197.81 235.08 L197.93 233.67 L198.05 232.24 L198.17 230.80 L198.28 229.35 L198.40 227.88 L198.52 226.40 L198.63 224.91 L198.75 223.41 L198.87 221.89 L198.99 220.36 L199.10 218.83 L199.22 217.28 L199.34 215.72 L199.45 214.15 L199.57 212.57 L199.69 210.98 L199.80 209.38 L199.92 207.77 L200.04 206.15 L200.16 204.53 L200.27 202.90 L200.39 201.26 L200.51 199.62 L200.62 197.97 L200.74 196.31 L200.86 194.65 L200.97 192.99 L201.09 191.32 L201.21 189.64 L201.33 187.97 L201.44 186.29 L201.56 184.61 L201.68 182.93 L201.79 181.25 L201.91 179.57 L202.03 177.90 L202.14 176.23 L202.26 174.58 L202.38 172.92 L202.50 171.28 L202.61 169.64 L202.73 168.00 L202.85 166.38 L202.96 164.77 L203.08 163.16 L203.20 161.56 L203.31 159.98 L203.43 158.40 L203.55 156.83 L203.67 155.27 L203.78 153.73 L203.90 152.19 L204.02 150.67 L204.13 149.16 L204.25 147.65 L204.37 146.16 L204.48 144.69 L204.60 143.22 L204.72 141.77 L204.84 140.33 L204.95 138.90 L205.07 137.49 L205.19 136.09 L205.30 134.70 L205.42 133.32 L205.54 131.96 L205.65 130.61 L205.77 129.27 L205.89 127.95 L206.01 126.64 L206.12 125.35 L206.24 124.06 L206.36 122.79 L206.47 121.54 L206.59 120.30 L206.71 119.07 L206.82 117.85 L206.94 116.65 L207.06 115.46 L207.18 114.29 L207.29 113.13 L207.41 111.98 L207.53 110.85 L207.64 109.73 L207.76 108.62 L207.88 107.53 L207.99 106.45 L208.11 105.39 L208.23 104.33 L208.35 103.29 L208.46 102.27 L208.58 101.25 L208.70 100.26 L208.81 99.27 L208.93 98.30 L209.05 97.34 L209.16 96.39 L209.28 95.45 L209.40 94.53 L209.52 93.63 L209.63 92.73 L209.75 91.85 L209.87 90.98 L209.98 90.12 L210.10 89.28 L210.22 88.44 L210.33 87.62 L210.45 86.82 L210.57 86.02 L210.69 85.24 L210.80 84.47 L210.92 83.71 L211.04 82.96 L211.15 82.23 L211.27 81.51 L211.39 80.79 L211.50 80.10 L211.62 79.41 L211.74 78.73 L211.86 78.07 L211.97 77.41 L212.09 76.77 L212.21 76.14 L212.32 75.52 L212.44 74.91 L212.56 74.31 L212.67 73.72 L212.79 73.14 L212.91 72.58 L213.03 72.02 L213.14 71.47 L213.26 70.94 L213.38 70.41 L213.49 69.89 L213.61 69.39 L213.73 68.89 L213.84 68.40 L213.96 67.92 L214.08 67.45 L214.19 66.99 L214.31 66.54 L214.43 66.10 L214.55 65.67 L214.66 65.24 L214.78 64.83 L214.90 64.42 L215.01 64.02 L215.13 63.63 L215.25 63.25 L215.37 62.87 L215.48 62.51 L215.60 62.15 L215.72 61.79 L215.83 61.45 L215.95 61.11 L216.07 60.78 L216.18 60.46 L216.30 60.15 L216.42 59.84 L216.53 59.53 L216.65 59.24 L216.77 58.95 L216.89 58.67 L217.00 58.39 L217.12 58.12 L217.24 57.86 L217.35 57.60 L217.47 57.35 L217.71 56.86 L217.94 56.39 L218.17 55.95 L218.41 55.52 L218.64 55.12 L218.88 54.73 L219.11 54.36 L219.34 54.01 L219.58 53.68 L219.81 53.36 L220.05 53.06 L220.28 52.77 L220.51 52.50 L220.75 52.24 L220.98 51.99 L221.22 51.75 L221.45 51.53 L221.68 51.31 L221.92 51.11 L222.15 50.92 L222.39 50.73 L222.62 50.56 L222.85 50.39 L223.09 50.24 L223.32 50.09 L223.56 49.94 L223.79 49.81 L224.02 49.68 L224.26 49.56 L224.49 49.45 L224.72 49.34 L224.96 49.23 L225.19 49.14 L225.43 49.04 L225.66 48.96 L225.90 48.87 L226.13 48.79 L226.36 48.72 L226.60 48.65 L226.83 48.58 L227.06 48.52 L227.30 48.46 L227.53 48.40 L227.77 48.34 L228.00 48.29 L228.24 48.24 L228.47 48.20 L228.70 48.15 L228.94 48.11 L229.17 48.07 L229.41 48.04 L229.64 48.00 L229.87 47.97 L230.11 47.94 L230.34 47.91 L230.58 47.88 L230.81 47.85 L231.04 47.83 L231.28 47.80 L231.51 47.78 L231.75 47.76 L231.98 47.74 L232.21 47.72 L232.45 47.70 L232.68 47.69 L232.92 47.67 L233.15 47.66 L233.38 47.64 L233.62 47.63 L233.85 47.62 L234.09 47.60 L234.32 47.59 L234.55 47.58 L234.79 47.57 L235.02 47.56 L235.26 47.55 L235.49 47.54 L235.72 47.54 L235.96 47.53 L236.19 47.52 L236.43 47.51 L236.66 47.51 L236.89 47.50 L237.13 47.50 L237.36 47.49 L237.60 47.48 L237.83 47.48 L238.06 47.48 L238.30 47.47 L238.53 47.47 L238.88 47.46 L239.23 47.46 L239.58 47.45 L239.94 47.45 L240.29 47.44 L240.75 47.44 L241.22 47.43 L241.81 47.43 L242.39 47.43 L243.09 47.42 L244.03 47.42 L245.20 47.41 L246.84 47.41 L249.53 47.40 L501.43 47.40"/>
</g>
<g stroke="#666666" stroke-opacity="0.40" stroke-width="1" fill="none">
<path d="M33.50 31.90 V333.50"/>
<path d="M23.80 318.40 H510.70"/>
<path stroke-opacity="0.52" d="M33.50 332.32 h3.50M33.50 305.18 h3.50M33.50 291.62 h3.50M33.50 278.05 h3.50M33.50 264.48 h5.80M33.50 250.91 h3.50M33.50 237.34 h3.50M33.50 223.78 h3.50M33.50 210.21 h5.80M33.50 196.64 h3.50M33.50 183.07 h3.50M33.50 169.51 h3.50M33.50 155.94 h5.80M33.50 142.37 h3.50M33.50 128.80 h3.50M33.50 115.24 h3.50M33.50 101.67 h5.80M33.50 88.10 h3.50M33.50 74.53 h3.50M33.50 60.97 h3.50M33.50 47.40 h5.80M33.50 33.83 h3.50"/>
<path stroke-opacity="0.3" d="M34.00 318.40 h5.8M33.50 317.90 v-5.4"/>
<path stroke-opacity="0.64" d="M56.83 318.40 v-3.50M80.23 318.40 v-3.50M103.63 318.40 v-3.50M127.03 318.40 v-3.50M150.43 318.40 v-5.40M173.83 318.40 v-3.50M197.23 318.40 v-3.50M220.63 318.40 v-3.50M244.03 318.40 v-3.50M267.43 318.40 v-5.40M290.83 318.40 v-3.50M314.23 318.40 v-3.50M337.63 318.40 v-3.50M361.03 318.40 v-3.50M384.43 318.40 v-5.40M407.83 318.40 v-3.50M431.23 318.40 v-3.50M454.63 318.40 v-3.50M478.03 318.40 v-3.50M501.43 318.40 v-5.40"/>
</g>
</svg>
<div class="yl" style="top:252.63px">0.2</div>
<div class="yl" style="top:198.36px">0.4</div>
<div class="yl" style="top:144.09px">0.6</div>
<div class="yl" style="top:89.82px">0.8</div>
<div class="yl" style="top:35.55px"><span class="o">1<svg viewBox="0 0 1139 1472" preserveAspectRatio="none"><path transform="translate(0,1472) scale(1,-1)" d="M806 0H525V1059Q371 915 162 846V1101Q272 1137 401 1237.5T578 1472H806Z"/></svg></span>.0</div>
<div class="xl" style="left:130.43px">0.5</div>
<div class="xl" style="left:247.43px"><span class="o">1<svg viewBox="0 0 1139 1472" preserveAspectRatio="none"><path transform="translate(0,1472) scale(1,-1)" d="M806 0H525V1059Q371 915 162 846V1101Q272 1137 401 1237.5T578 1472H806Z"/></svg></span>.0</div>
<div class="xl" style="left:364.43px"><span class="o">1<svg viewBox="0 0 1139 1472" preserveAspectRatio="none"><path transform="translate(0,1472) scale(1,-1)" d="M806 0H525V1059Q371 915 162 846V1101Q272 1137 401 1237.5T578 1472H806Z"/></svg></span>.5</div>
<div class="xl" style="left:481.43px">2.0</div>
<div class="t" style="left:13.1px;top:0.9px;font-size:19.8px">&Gamma;<i>(&omega;)</i></div>
<div class="t" style="left:524px;top:308px"><i>&omega;</i></div>
</body></html>
